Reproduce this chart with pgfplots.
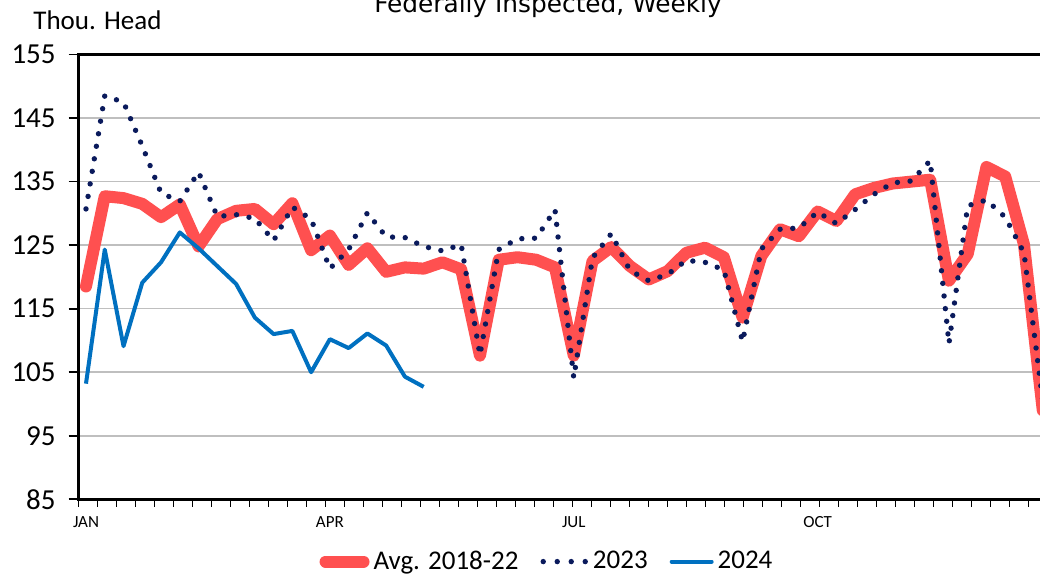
\documentclass[border=0pt]{standalone}
\usepackage{pgfplots}
\usepackage{pgfplotstable}
\pgfplotsset{compat=1.18}
\usepackage{fontspec}
\setmainfont{Carlito}
\newfontfamily\titlefont{DejaVu Sans}
\definecolor{avgred}{HTML}{FF5050}
\definecolor{navy}{HTML}{0A1A5C}
\definecolor{blue24}{HTML}{0070C0}
\definecolor{gridgray}{HTML}{BFBFBF}

\pgfplotstableread{
w avg y23
1 118.5 130.7
2 132.7 148.5
3 132.4 147.5
4 131.5 140.6
5 129.4 133.2
6 131.4 131.9
7 124.8 136.5
8 129.1 129.5
9 130.4 129.8
10 130.7 129.2
11 128.3 125.7
12 131.6 131.0
13 124.2 129.1
14 126.5 121.3
15 121.9 124.3
16 124.5 130.1
17 120.8 126.3
18 121.5 126.2
19 121.3 124.8
20 122.3 124.1
21 121.2 125.1
22 107.6 107.7
23 122.7 124.3
24 123.1 126.0
25 122.7 126.1
26 121.5 130.6
27 107.6 104.1
28 122.5 123.0
29 124.7 126.8
30 121.7 121.0
31 119.6 119.4
32 120.9 120.4
33 123.8 122.6
34 124.6 122.3
35 123.1 121.1
36 113.6 109.8
37 123.3 124.4
38 127.5 127.5
39 126.4 127.7
40 130.3 130.2
41 128.8 128.4
42 133.0 130.6
43 134.0 133.0
44 134.7 134.8
45 135.0 135.1
46 135.3 138.3
47 119.4 109.5
48 123.6 131.2
49 137.3 132.1
50 135.8 129.4
51 125.1 123.8
52 99.0 100.5
}\datatable

\pgfplotstableread{
w y24
1 103.2
2 124.3
3 109.1
4 119.1
5 122.3
6 127.0
7 124.5
8 121.7
9 118.9
10 113.6
11 111.0
12 111.5
13 105.0
14 110.2
15 108.8
16 111.1
17 109.2
18 104.3
19 102.7
}\bluetable

\begin{document}
\begin{tikzpicture}
\path[use as bounding box] (0,0) rectangle (520pt,287.5pt);
\begin{pgfinterruptboundingbox}
\clip (0,0) rectangle (520pt,287.5pt);
\begin{axis}[
  at={(39.35pt,37.85pt)}, anchor=south west,
  scale only axis, width=491.4pt, height=222.4pt,
  xmin=0.611, xmax=53, ymin=85, ymax=155,
  ytick={85,95,...,155},
  xtick={1,14,27,40}, xticklabels={JAN,APR,JUL,OCT},
  minor xtick={0.611,1.6238,...,54},
  tick align=outside, tick pos=left,
  major x tick style={draw=none},
  minor x tick style={black, line width=0.7pt},
  major y tick style={black, line width=0.9pt},
  major tick length=5pt, minor tick length=3.6pt,
  ymajorgrids, grid style={gridgray, line width=0.8pt},
  axis line style={black, line width=1.4pt},
  /pgf/number format/assume math mode=true,
  yticklabel style={font=\fontsize{14.5}{16}\selectfont, xshift=-3pt},
  xticklabel style={font=\fontsize{8.5}{10}\selectfont},
  legend style={at={(0.4775,-0.14)}, anchor=center, draw=none, fill=none,
    legend columns=3, font=\fontsize{13.5}{16}\selectfont,
    /tikz/every even column/.append style={column sep=9pt}},
  legend cell align=left,
]
\addplot[avgred, line width=6pt, line join=round, line cap=round,
  legend image code/.code={\draw[avgred, line width=6pt, line cap=round] (3pt,0pt) -- (22pt,0pt);}]
  table[x=w, y=avg] {\datatable};
\addlegendentry{Avg. 2018-22}
\addplot[navy, line width=2.7pt, line cap=round, dash pattern=on 0pt off 6.35pt,
  legend image code/.code={\draw[navy, line width=2.7pt, line cap=round, dash pattern=on 0pt off 7pt] (1.5pt,0pt) -- (23pt,0pt);}]
  table[x=w, y=y23] {\datatable};
\addlegendentry{2023}
\addplot[blue24, line width=2pt, line join=round,
  legend image code/.code={\draw[blue24, line width=2pt, line cap=round] (1pt,0pt) -- (21pt,0pt);}]
  table[x=w, y=y24] {\bluetable};
\addlegendentry{2024}
\end{axis}
\node[anchor=base west, inner sep=0pt, font=\fontsize{13.5}{16}\selectfont] at (16.5pt,273pt) {Thou. Head};
\node[anchor=base, inner sep=0pt, font=\titlefont\fontsize{12.4}{15}\selectfont] at (274pt,281.5pt) {Federally Inspected, Weekly};
\end{pgfinterruptboundingbox}
\end{tikzpicture}
\end{document}
